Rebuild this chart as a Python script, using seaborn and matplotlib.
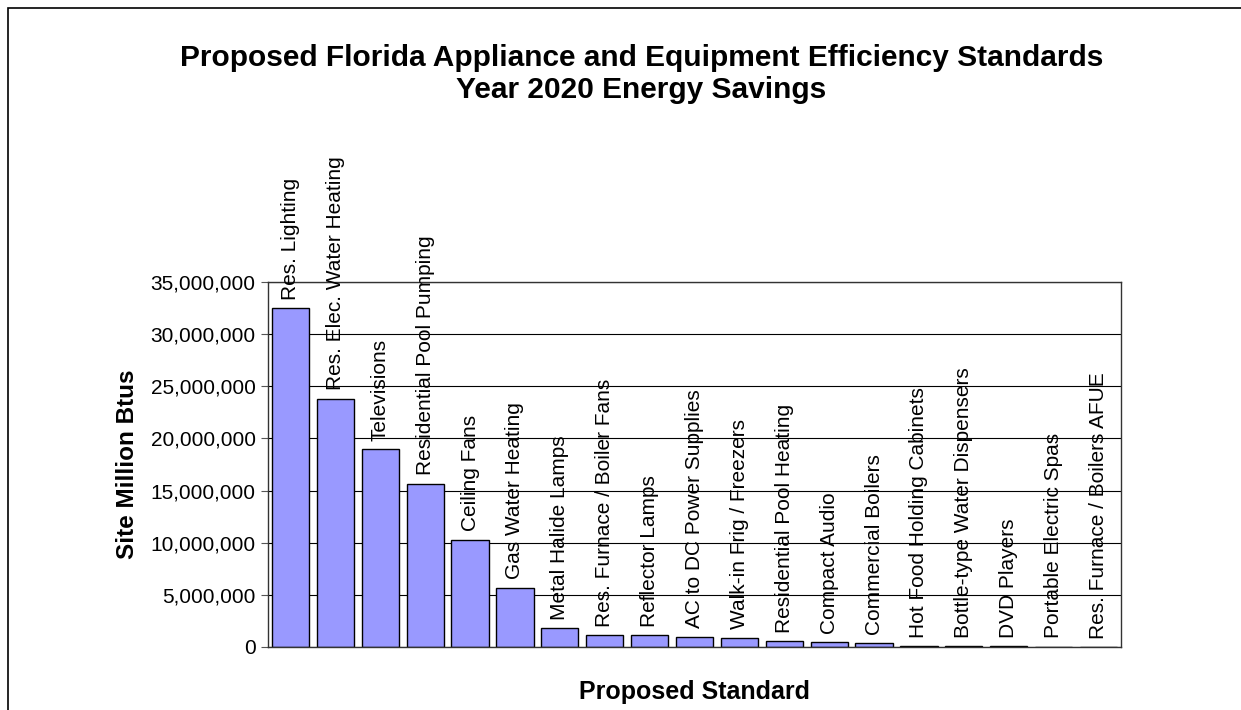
import pandas as pd
import matplotlib.pyplot as plt
import matplotlib.ticker as mticker
import matplotlib.patches as mpatches
import seaborn as sns

standards = ["Res. Lighting", "Res. Elec. Water Heating", "Televisions",
             "Residential Pool Pumping", "Ceiling Fans", "Gas Water Heating",
             "Metal Halide Lamps", "Res. Furnace / Boiler Fans", "Reflector Lamps",
             "AC to DC Power Supplies", "Walk-in Frig / Freezers",
             "Residential Pool Heating", "Compact Audio", "Commercial Boilers",
             "Hot Food Holding Cabinets", "Bottle-type Water Dispensers",
             "DVD Players", "Portable Electric Spas", "Res. Furnace / Boilers AFUE"]
savings = [32500000, 23800000, 19000000, 15650000, 10300000, 5700000,
           1800000, 1150000, 1150000, 1000000, 900000,
           550000, 450000, 350000, 100000, 100000,
           100000, 30000, 15000]

df = pd.DataFrame({"standard": standards, "savings": savings})

sns.set_style("white")
plt.rcParams["font.family"] = ["Liberation Sans", "DejaVu Sans"]
plt.rcParams["text.color"] = "black"
plt.rcParams["ytick.color"] = "black"
plt.rcParams["axes.labelcolor"] = "black"

fig = plt.figure(figsize=(12.41, 7.10), dpi=100)
ax = fig.add_axes([268 / 1241, 1 - 647 / 710, (1121 - 268) / 1241, (647 - 282) / 710])

sns.barplot(data=df, x="standard", y="savings", color="#9999FF",
            edgecolor="black", linewidth=1, width=0.83, saturation=1, ax=ax)

ax.set_ylim(0, 35000000)
ax.set_xlim(-0.5, len(standards) - 0.5)
ax.yaxis.set_major_locator(mticker.MultipleLocator(5000000))
ax.yaxis.set_major_formatter(mticker.FuncFormatter(lambda v, p: f"{int(v):,}"))
ax.grid(axis="y", color="black", linewidth=0.8)
ax.set_axisbelow(True)
ax.tick_params(axis="y", left=True, length=5, color="#555555", labelsize=15, pad=4)
ax.tick_params(axis="x", bottom=False, labelbottom=False)
for s in ax.spines.values():
    s.set_color("#333333")
    s.set_linewidth(1)

# category names sit on top of each bar
for i, v in enumerate(savings):
    ax.annotate(standards[i], (i, v), xytext=(0, 6), textcoords="offset points",
                rotation=90, ha="center", va="bottom", fontsize=15,
                annotation_clip=False)

ax.set_xlabel("Proposed Standard", fontsize=18, fontweight="bold", labelpad=24)
ax.set_ylabel("Site Million Btus", fontsize=17.5, fontweight="bold", labelpad=8)

fig.text(0.517, 1 - 74 / 710, "Proposed Florida Appliance and Equipment Efficiency Standards\nYear 2020 Energy Savings",
         ha="center", va="center", fontsize=21.5, fontweight="bold", linespacing=1.15)

fig.patches.append(mpatches.Rectangle((8 / 1241, -0.1), 1.2, 1 - 8 / 710 + 0.1,
                                      transform=fig.transFigure, fill=False,
                                      edgecolor="black", linewidth=1.2))

fig.savefig("out.png", dpi=100)
